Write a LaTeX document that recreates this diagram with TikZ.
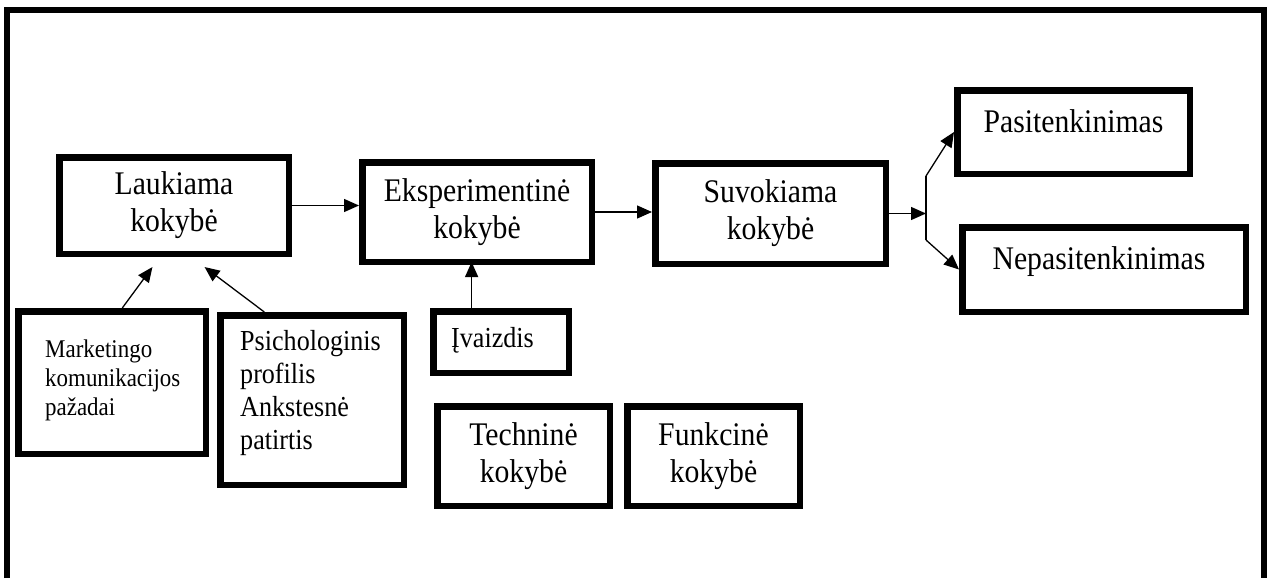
\documentclass[tikz,border=0pt]{standalone}
\usepackage{fontspec}
\setmainfont{Liberation Serif}[FakeStretch=0.9]
\usetikzlibrary{arrows.meta,calc}
\begin{document}
\begin{tikzpicture}[x=1pt,y=-1pt,
  box/.style={draw,line width=6.5pt,inner sep=0pt,align=center,font=\fontsize{33}{37}\selectfont},
  conn/.style={line width=1.3pt},
  arr/.style={conn,-{Triangle[length=15pt,width=13pt]}},
  lefttext/.style={inner sep=0pt,align=left,anchor=north west},
  bigtext/.style={inner sep=0pt,font=\fontsize{33}{37}\selectfont}]
\useasboundingbox (0,0) rectangle (1271,578);
\draw[line width=6pt] (7,578) -- (7,10) -- (1264,10) -- (1264,578);

% main row
\node[box,minimum width=229.5pt,minimum height=96.5pt] (L) at (174,205.5) {Laukiama\\kokybė};
\node[box,minimum width=229.5pt,minimum height=99.5pt] (E) at (477,212) {Eksperimentinė\\kokybė};
\node[box,minimum width=230.5pt,minimum height=100.5pt] (S) at (770.5,213.5) {Suvokiama\\kokybė};
\node[box,minimum width=232.5pt,minimum height=83.5pt] (P) at (1073.5,132) {};
\node[bigtext,anchor=base] (pt) at (P.center) {Pasitenkinimas};
\node[box,minimum width=283.5pt,minimum height=84.5pt] (N) at (1104,269.5) {};
\node[bigtext,anchor=base] (nt) at ([xshift=-5pt]N.center) {Nepasitenkinimas};

% lower boxes
\node[box,minimum width=187.5pt,minimum height=142.5pt] (M) at (112,382.5) {};
\node[lefttext,font=\fontsize{25.5}{29}\selectfont] (mt) at (45,339.6) {Marketingo\\komunikacijos\\pažadai};
\node[box,minimum width=183.5pt,minimum height=169.5pt] (Ps) at (312,400) {};
\node[lefttext,font=\fontsize{29}{33}\selectfont] (pst) at (240,330.2) {Psichologinis\\profilis\\Ankstesnė\\patirtis};
\node[box,minimum width=135.5pt,minimum height=61.5pt] (I) at (501,342) {};
\node[inner sep=0pt,anchor=base west,font=\fontsize{29}{33}\selectfont] (it) at (451,347) {Įvaizdis};
\node[box,minimum width=172.5pt,minimum height=99.5pt] (T) at (523.5,456) {Techninė\\kokybė};
\node[box,minimum width=172.5pt,minimum height=99.5pt] (F) at (713.5,456) {Funkcinė\\kokybė};

% connectors
\draw[arr] (L.east) -- (L.east -| E.west);
\draw[arr] (E.east) -- (E.east -| S.west);
\coordinate (br) at (926,213.5);
\coordinate (bu) at (926,176);
\coordinate (bd) at (926,240);
\draw[arr] (S.east) -- (br);
\draw[conn] (bu) -- (bd);
\draw[arr] (bu) -- (P.west);
\draw[arr] (bd) -- (N.west);

\draw[arr,shorten >=12.5pt] ($(M.north west)!0.553!(M.north east)$) -- ($(L.south west)!0.44!(L.south east)$);
\draw[arr,shorten >=16.7pt] ($(Ps.north west)!0.249!(Ps.north east)$) -- ($(L.south west)!0.573!(L.south east)$);
\coordinate (ia) at ($(I.north west)!0.293!(I.north east)$);
\draw[arr,shorten >=-3pt] (ia) -- (ia |- E.south);
\end{tikzpicture}
\end{document}
